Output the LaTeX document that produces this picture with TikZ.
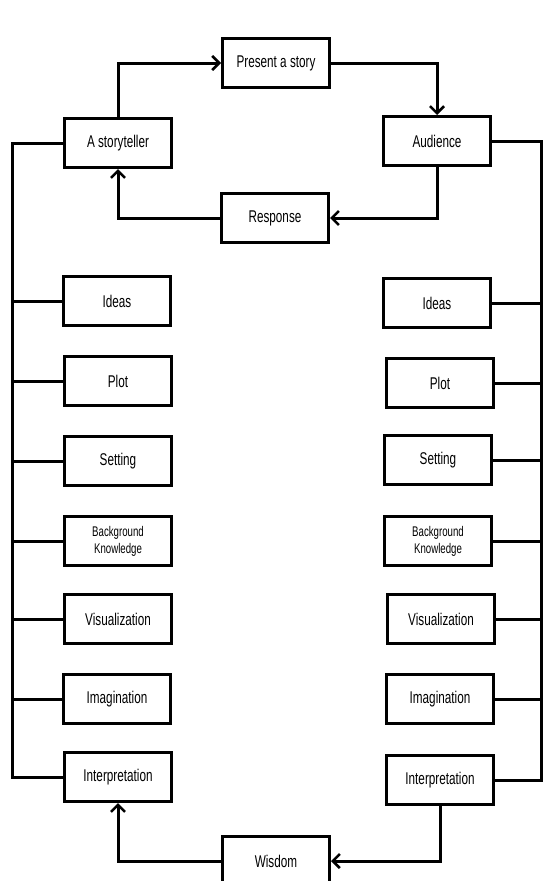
\documentclass[tikz,border=0pt]{standalone}
\usepackage{fontspec}
\setmainfont{Liberation Sans}[FakeStretch=0.69]
\usetikzlibrary{arrows.meta}
\begin{document}
\begin{tikzpicture}[x=1pt,y=-1pt,
  box/.style={draw, line width=3pt, minimum width=107pt, minimum height=49pt, inner sep=0pt, font=\fontsize{17}{19}\selectfont, align=center},
  smallbox/.style={box, font=\fontsize{14}{17}\selectfont},
  conn/.style={line width=3pt},
  arr/.style={conn, -{Straight Barb[length=7pt,width=14pt,line width=2.6pt]}}]
\useasboundingbox (0,0) rectangle (543,881);
\begin{scope}
\clip (0,0) rectangle (543,881);
% top cycle
\node[box] (present) at (276,63) {Present a story};
\node[box] (teller) at (118,143) {A storyteller};
\node[box] (aud) at (437,141) {Audience};
\node[box] (resp) at (275,218) {Response};
% left column
\node[box] (lideas) at (117,301) {Ideas};
\node[box] (lplot) at (118,381) {Plot};
\node[box] (lset) at (118,461) {Setting};
\node[smallbox] (lbk) at (118,541) {Background\\Knowledge};
\node[box] (lvis) at (118,619) {Visualization};
\node[box] (limag) at (117,699) {Imagination};
\node[box] (lint) at (118,777) {Interpretation};
% right column
\node[box] (rideas) at (437,303) {Ideas};
\node[box] (rplot) at (440,383) {Plot};
\node[box] (rset) at (438,460) {Setting};
\node[smallbox] (rbk) at (438,541) {Background\\Knowledge};
\node[box] (rvis) at (441,619) {Visualization};
\node[box] (rimag) at (440,699) {Imagination};
\node[box] (rint) at (440,780) {Interpretation};
% bottom
\node[box] (wis) at (276,861) {Wisdom};
% bus coordinates
\coordinate (lb) at (12,0);
\coordinate (rb) at (541,0);
% cycle arrows
\draw[arr] (teller.north) |- (present.west);
\draw[arr] (present.east) -| (aud.north);
\draw[arr] (aud.south) |- (resp.east);
\draw[arr] (resp.west) -| (teller.south);
\draw[arr] (rint.south) |- (wis.east);
\draw[arr] (wis.west) -| (lint.south);
% left bus
\draw[conn] (teller.west) -- (teller.west -| lb) -- (lint.west -| lb) -- (lint.west);
\foreach \n in {lideas,lplot,lset,lbk,lvis,limag}
  \draw[conn] (\n.west) -- (\n.west -| lb);
% right bus
\draw[conn] (aud.east) -- (aud.east -| rb) -- (rint.east -| rb) -- (rint.east);
\foreach \n in {rideas,rplot,rset,rbk,rvis,rimag}
  \draw[conn] (\n.east) -- (\n.east -| rb);
\end{scope}
\end{tikzpicture}
\end{document}
